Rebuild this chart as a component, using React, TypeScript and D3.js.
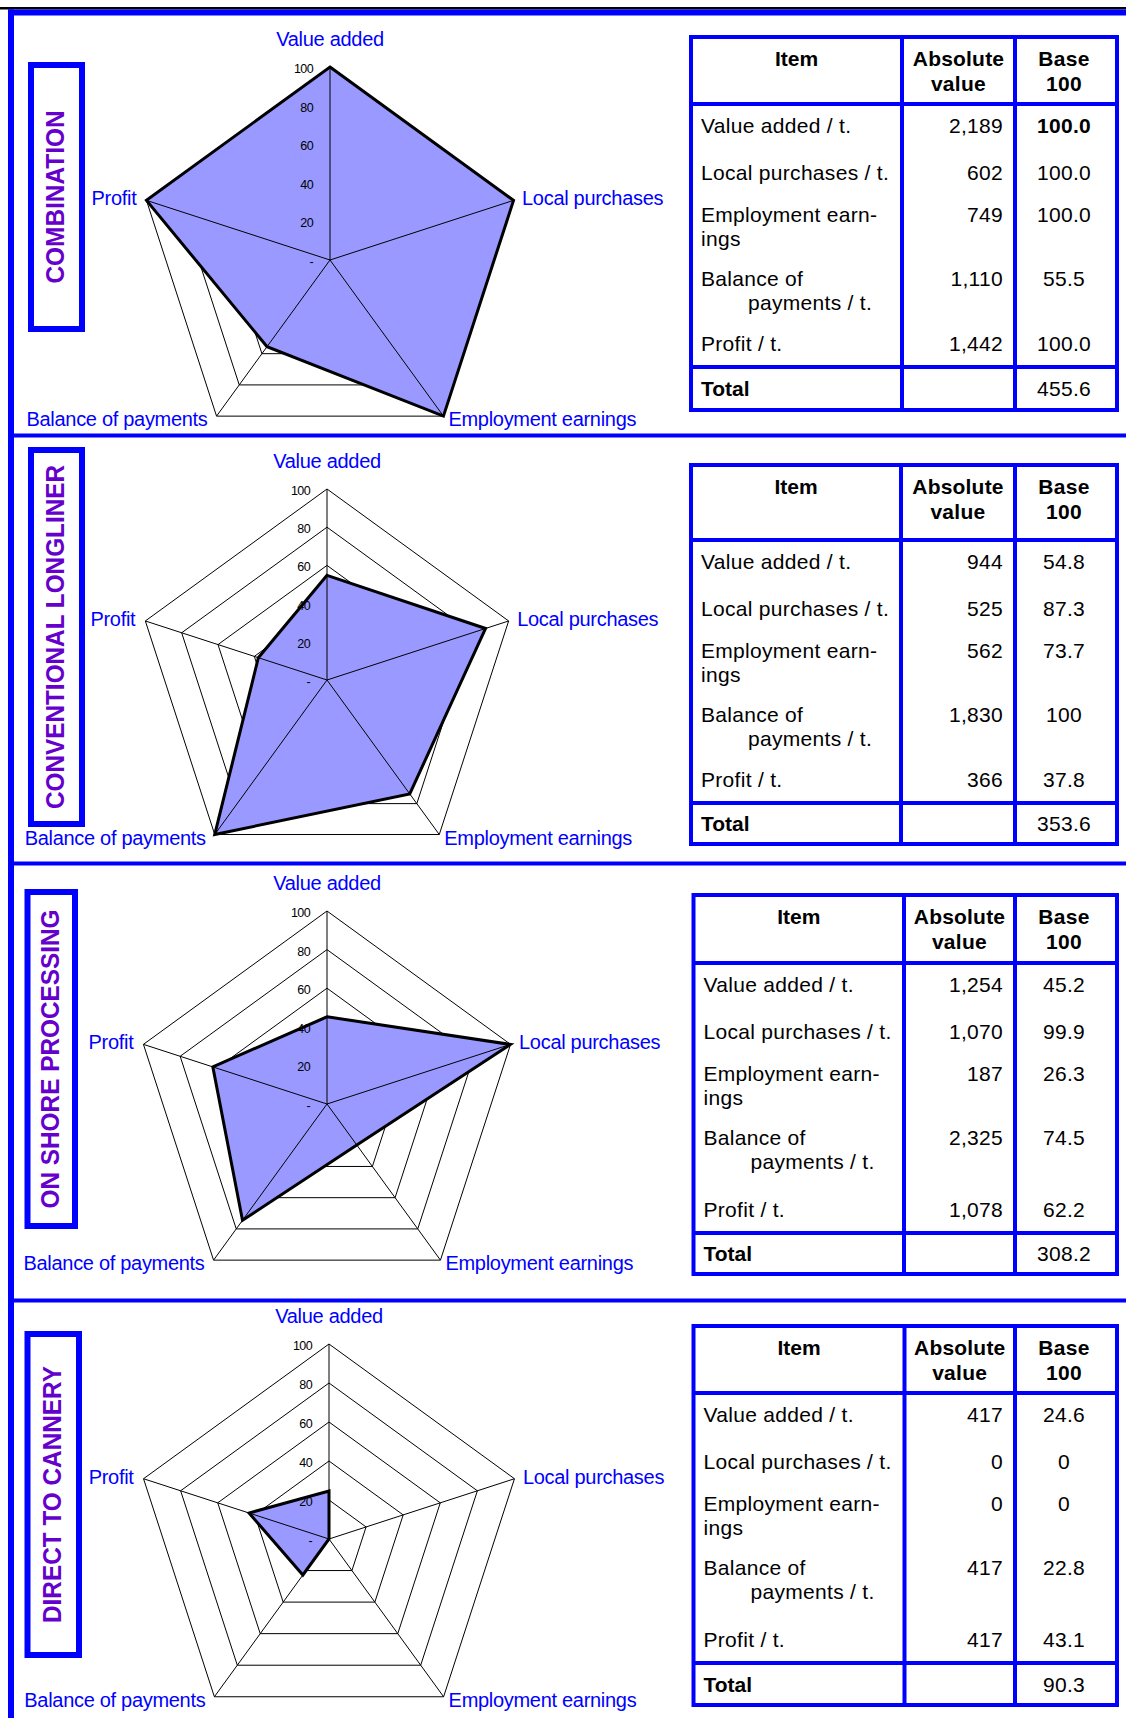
import React from "react";
import * as d3 from "d3";

// axes of the radar, clockwise from the top
const axes = ["Value added", "Local purchases", "Employment earnings", "Balance of payments", "Profit"];
const ticks = [0, 20, 40, 60, 80, 100];
const tickLabels = ["-", "20", "40", "60", "80", "100"];

const panelTitles = ["COMBINATION", "CONVENTIONAL LONGLINER", "ON SHORE PROCESSING", "DIRECT TO CANNERY"];

// base 100 values plotted on the radars
const combination = [100, 100, 100, 55.5, 100];
const longliner = [54.8, 87.3, 73.7, 100, 37.8];
const onShore = [45.2, 99.9, 26.3, 74.5, 62.2];
const cannery = [24.6, 0, 0, 22.8, 43.1];

// table contents
const itemRows = ["Value added / t.", "Local purchases / t.", "Employment earn-|ings", "Balance of|payments / t.", "Profit / t."];
const absCombination = ["2,189", "602", "749", "1,110", "1,442"];
const absLongliner = ["944", "525", "562", "1,830", "366"];
const absOnShore = ["1,254", "1,070", "187", "2,325", "1,078"];
const absCannery = ["417", "0", "0", "417", "417"];
const baseCombination = ["100.0", "100.0", "100.0", "55.5", "100.0"];
const baseLongliner = ["54.8", "87.3", "73.7", "100", "37.8"];
const baseOnShore = ["45.2", "99.9", "26.3", "74.5", "62.2"];
const baseCannery = ["24.6", "0", "0", "22.8", "43.1"];
const totals = ["455.6", "353.6", "308.2", "90.3"];

const FONT = "'Liberation Sans', Arial, sans-serif";
const BLUE = "#0000ff";

const layout = [
  { cx: 330, cy: 260, R: 193, box: [31, 65, 51, 264], titleLen: 173, tbl: { l: 691, t: 37, r: 1117, c1: 902, c2: 1015, hb: 104, tt: 367, b: 410 } },
  { cx: 327, cy: 680, R: 191, box: [31, 450, 51, 374], titleLen: 344, tbl: { l: 691, t: 465, r: 1117, c1: 901, c2: 1015, hb: 540, tt: 803, b: 844 } },
  { cx: 327, cy: 1104, R: 193, box: [27.5, 892, 47.5, 334], titleLen: 299, tbl: { l: 693.5, t: 895, r: 1117, c1: 904, c2: 1015, hb: 963, tt: 1233, b: 1274 } },
  { cx: 329, cy: 1539, R: 195, box: [27.5, 1334, 51.5, 321], titleLen: 257, tbl: { l: 693.5, t: 1326, r: 1117, c1: 904.5, c2: 1015, hb: 1393, tt: 1663, b: 1705 } },
];

function Radar({ values, cx, cy, R }) {
  const r = d3.scaleLinear().domain([0, 100]).range([0, R]);
  const ang = (i) => (i * 2 * Math.PI) / axes.length;
  const radial = d3
    .lineRadial()
    .angle((d, i) => ang(i))
    .radius((d) => r(d))
    .curve(d3.curveLinearClosed);
  const pt = (i, v) => [r(v) * Math.sin(ang(i)), -r(v) * Math.cos(ang(i))];

  const labelPos = [
    { dx: 0, dy: -28, anchor: "middle" },
    { dx: 8.5, dy: -2, anchor: "start" },
    { dx: 5, dy: 3, anchor: "start" },
    { dx: -9, dy: 3, anchor: "end" },
    { dx: -10, dy: -2, anchor: "end" },
  ];

  return (
    <g transform={`translate(${cx},${cy})`}>
      {ticks.slice(1).map((t) => (
        <path key={t} d={radial(axes.map(() => t))} fill="none" stroke="#000" strokeWidth={1} />
      ))}
      <path d={radial(values)} fill="#9999ff" stroke="none" />
      {axes.map((a, i) => {
        const [x, y] = pt(i, 100);
        return <line key={a} x1={0} y1={0} x2={x} y2={y} stroke="#000" strokeWidth={1} />;
      })}
      {ticks.map((t, i) => (
        <text key={t} x={-17} y={-r(t) + 2} textAnchor="end" dominantBaseline="central" fontSize={12.5} letterSpacing={-0.6} fill="#000" fontFamily={FONT}>
          {tickLabels[i]}
        </text>
      ))}
      <path d={radial(values)} fill="none" stroke="#000" strokeWidth={3} strokeLinejoin="miter" />
      {axes.map((a, i) => {
        const [x, y] = pt(i, 100);
        const p = labelPos[i];
        return (
          <text key={a} x={x + p.dx} y={y + p.dy} textAnchor={p.anchor} dominantBaseline="central" fontSize={20} letterSpacing={-0.3} fill={BLUE} fontFamily={FONT}>
            {a}
          </text>
        );
      })}
    </g>
  );
}

function Table({ g, abs, base, total, boldFirst }) {
  const fs = 21;
  const rowY = [21, 68, 110, 134, 174, 198];
  const textProps = { fontFamily: FONT, fontSize: fs, fill: "#000", dominantBaseline: "central", letterSpacing: 0.3 };
  const absX = g.c2 - 12;
  const baseX = (g.c2 + g.r) / 2 - 2;
  const rows = [];
  itemRows.forEach((label, i) => {
    const parts = label.split("|");
    const y1 = i === 4 ? g.tt - 24 : g.hb + (i === 0 ? rowY[0] : i === 1 ? rowY[1] : i === 2 ? rowY[2] : rowY[4]);
    rows.push(
      <text key={"l" + i} x={g.l + 10} y={y1} {...textProps}>
        {parts[0]}
      </text>
    );
    if (parts[1]) {
      const y2 = g.hb + (i === 2 ? rowY[3] : rowY[5]);
      rows.push(
        <text key={"m" + i} x={i === 3 ? g.l + 57 : g.l + 10} y={y2} {...textProps}>
          {parts[1]}
        </text>
      );
    }
    rows.push(
      <text key={"a" + i} x={absX} y={y1} textAnchor="end" {...textProps}>
        {abs[i]}
      </text>
    );
    rows.push(
      <text key={"b" + i} x={baseX} y={y1} textAnchor="middle" {...textProps} fontWeight={boldFirst && i === 0 ? "bold" : "normal"}>
        {base[i]}
      </text>
    );
  });
  const sw = 4;
  return (
    <g>
      <rect x={g.l} y={g.t} width={g.r - g.l} height={g.b - g.t} fill="#fff" stroke={BLUE} strokeWidth={sw} />
      <line x1={g.c1} x2={g.c1} y1={g.t} y2={g.b} stroke={BLUE} strokeWidth={sw} />
      <line x1={g.c2} x2={g.c2} y1={g.t} y2={g.b} stroke={BLUE} strokeWidth={sw} />
      <line x1={g.l} x2={g.r} y1={g.hb} y2={g.hb} stroke={BLUE} strokeWidth={sw} />
      <line x1={g.l} x2={g.r} y1={g.tt} y2={g.tt} stroke={BLUE} strokeWidth={sw} />
      <text x={(g.l + g.c1) / 2} y={g.t + 21} textAnchor="middle" {...textProps} fontWeight="bold" letterSpacing={0}>Item</text>
      <text x={(g.c1 + g.c2) / 2} y={g.t + 21} textAnchor="middle" {...textProps} fontWeight="bold" letterSpacing={0.2}>Absolute</text>
      <text x={(g.c1 + g.c2) / 2} y={g.t + 46} textAnchor="middle" {...textProps} fontWeight="bold">value</text>
      <text x={baseX} y={g.t + 21} textAnchor="middle" {...textProps} fontWeight="bold">Base</text>
      <text x={baseX} y={g.t + 46} textAnchor="middle" {...textProps} fontWeight="bold">100</text>
      {rows}
      <text x={g.l + 10} y={(g.tt + g.b) / 2} {...textProps} fontWeight="bold" letterSpacing={0}>Total</text>
      <text x={baseX} y={(g.tt + g.b) / 2} textAnchor="middle" {...textProps}>{total}</text>
    </g>
  );
}

export default function App() {
  const values = [combination, longliner, onShore, cannery];
  const absCols = [absCombination, absLongliner, absOnShore, absCannery];
  const baseCols = [baseCombination, baseLongliner, baseOnShore, baseCannery];
  const seps = [433.5, 861.5, 1298.5];
  return (
    <svg width={1126} height={1718} style={{ position: "absolute", left: 0, top: 0, background: "#fff" }}>
      <rect x={0} y={0} width={1126} height={1718} fill="#fff" />
      <rect x={0} y={7} width={1126} height={2.5} fill="#000" />
      <rect x={8} y={9.5} width={1118} height={6} fill={BLUE} />
      <rect x={8} y={9.5} width={6} height={1708.5} fill={BLUE} />
      {seps.map((y) => (
        <rect key={y} x={8} y={y} width={1118} height={4} fill={BLUE} />
      ))}
      {layout.map((p, i) => {
        const [bx, by, bw, bh] = p.box;
        return (
          <g key={i}>
            <rect x={bx} y={by} width={bw} height={bh} fill="#fff" stroke={BLUE} strokeWidth={6} />
            <text
              transform={`translate(${bx + bw / 2 - 1.5},${by + bh / 2}) rotate(-90)`}
              textAnchor="middle"
              dominantBaseline="central"
              fontFamily={FONT}
              fontWeight="bold"
              fontSize={26}
              textLength={p.titleLen}
              lengthAdjust="spacingAndGlyphs"
              fill="#6600cc"
            >
              {panelTitles[i]}
            </text>
            <Radar values={values[i]} cx={p.cx} cy={p.cy} R={p.R} />
            <Table g={p.tbl} abs={absCols[i]} base={baseCols[i]} total={totals[i]} boldFirst={i === 0} />
          </g>
        );
      })}
    </svg>
  );
}
